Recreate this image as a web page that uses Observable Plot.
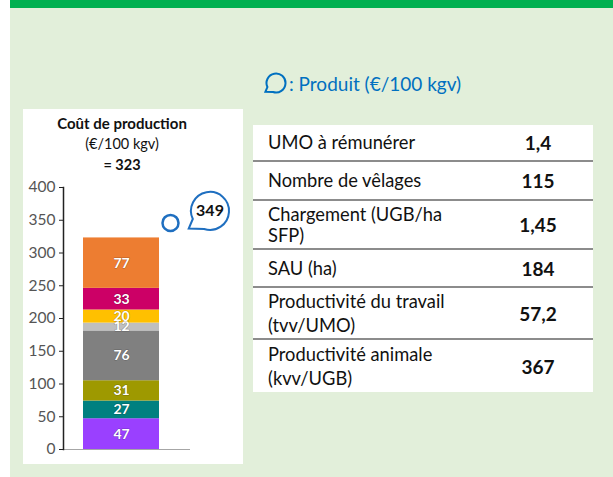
<!DOCTYPE html>
<html><head><meta charset="utf-8">
<script src="https://cdn.jsdelivr.net/npm/d3@7"></script>
<script src="https://cdn.jsdelivr.net/npm/@observablehq/plot@0.6"></script>
<style>
html,body{margin:0;padding:0;background:#fff;}
body{width:613px;height:477px;overflow:hidden;position:relative;font-family:Lato,"Open Sans",sans-serif;}
.abs{position:absolute;}
#bg{left:10px;top:0;width:603px;height:477px;background:#E2EFDA;}
#band{left:10px;top:0;width:603px;height:8px;background:#00B050;}
#legend{left:264px;top:71px;color:#0070C0;font-size:19px;display:flex;align-items:center;white-space:nowrap;}
#panel{left:23px;top:109px;width:220px;height:355px;background:#fff;}
.ttl{left:12px;width:220px;text-align:center;color:#111;white-space:nowrap;}
#chart{left:23px;top:175px;}
#tbl{left:253px;top:125px;width:340px;background:#fff;border-collapse:collapse;font-size:18.3px;color:#111;}
#tbl td{padding:0;line-height:21px;}
#tbl td.l{padding-left:15px;width:215px;}
#tbl td.v{text-align:center;font-weight:bold;font-size:19px;padding-right:0;}
#tbl tr{border-bottom:2px solid #8c8c8c;}
#tbl tr:last-child{border-bottom:none;}
</style></head>
<body>
<div id="bg" class="abs"></div>
<div id="band" class="abs"></div>
<div id="legend" class="abs"></div>
<div id="panel" class="abs"></div>
<div class="abs ttl" style="top:114px;font-size:15px;font-weight:bold;">Coût de production</div>
<div class="abs ttl" id="unit" style="top:135px;font-size:14.5px;"></div>
<div class="abs ttl" id="total" style="top:156px;font-size:14.5px;font-weight:bold;"></div>
<div id="chart" class="abs"></div>
<table id="tbl" class="abs"></table>
<script>
// ---- data ----
const postes = ["Poste 1","Poste 2","Poste 3","Poste 4","Poste 5","Poste 6","Poste 7","Poste 8"];
const valeurs = [47, 27, 31, 76, 12, 20, 33, 77];
const couleurs = ["#9a40ff","#008080","#9e9900","#808080","#bfbfbf","#ffc000","#cc0066","#ed7d31"];
const produit = 349;
const coutTotal = 323;
const uniteTitre = "(€/100 kgv)";
const legendeProduit = ": Produit (€/100 kgv)";
const yTicks = [0, 50, 100, 150, 200, 250, 300, 350, 400];
const tableLabels = ["UMO à rémunérer", "Nombre de vêlages", "Chargement (UGB/ha<br>SFP)", "SAU (ha)", "Productivité du travail<br>(tvv/UMO)", "Productivité animale<br>(kvv/UGB)"];
const tableValeurs = ["1,4", "115", "1,45", "184", "57,2", "367"];
const rowHeights = [36, 39, 49, 38, 52, 53];
const rowLineHeights = [21, 21, 21, 21, 24, 24];

// speech bubble shape
function bubbleDraw(ctx, r) {
  const a1 = Math.PI * 0.60, a2 = Math.PI * 0.86;
  ctx.moveTo(r * Math.cos(a2), r * Math.sin(a2));
  ctx.arc(0, 0, r, a2, a1 + 2 * Math.PI);
  ctx.lineTo(-r * 1.12, r * 0.93);
  ctx.closePath();
}
const bubbleSymbol = {draw(ctx, size) { bubbleDraw(ctx, Math.sqrt(size / Math.PI)); }};

// ---- text parts ----
document.getElementById("unit").textContent = uniteTitre;
document.getElementById("total").textContent = "= " + coutTotal;
const blue = "#1f6fc0";
const iconPath = d3.path(); bubbleDraw(iconPath, 9.5);
document.getElementById("legend").innerHTML =
  `<svg width="24" height="24" viewBox="-12 -12 24 24" style="margin-right:1px"><path d="${iconPath.toString()}" fill="none" stroke="#0070C0" stroke-width="2"/></svg><span>${legendeProduit}</span>`;

const tbl = document.getElementById("tbl");
tableLabels.forEach((lab, i) => {
  const tr = document.createElement("tr");
  tr.style.height = rowHeights[i] + "px";
  tr.innerHTML = `<td class="l" style="line-height:${rowLineHeights[i]}px">${lab}</td><td class="v">${tableValeurs[i]}</td>`;
  tbl.appendChild(tr);
});

// ---- chart ----
const data = postes.map((p, i) => ({poste: p, v: valeurs[i], groupe: "A"}));
const prod = [{groupe: "A", v: produit}];

const chart = Plot.plot({
  width: 220,
  height: 285,
  marginLeft: 40,
  marginRight: 53,
  marginTop: 12,
  marginBottom: 11,
  style: {background: "transparent", fontFamily: "Lato, sans-serif", overflow: "visible"},
  x: {domain: ["A"], padding: 0, axis: null},
  y: {domain: [0, 400], axis: null},
  color: {domain: postes, range: couleurs},
  marks: [
    Plot.barY(data, {x: "groupe", y: "v", fill: "poste", insetLeft: 20, insetRight: 31}),
    Plot.text(data, Plot.stackY({x: "groupe", y: "v", text: "v", dx: -5.5, fill: "white", fontWeight: "bold", fontSize: 14, stroke: "rgba(0,0,0,0.25)", strokeWidth: 1.2, paintOrder: "stroke"})),
    Plot.ruleY([0], {stroke: "#a6a6a6", strokeWidth: 1.2}),
    Plot.frame({anchor: "left", stroke: "#222", strokeWidth: 1.5}),
    Plot.axisY({ticks: yTicks, tickSize: 4, tickPadding: 4, fontSize: 15.5, color: "#555", tickFormat: d => d, stroke: "#222", label: null}),
    Plot.dot(prod, {x: "groupe", y: "v", dx: 43.5, dy: 2, r: 8, fill: "white", stroke: blue, strokeWidth: 2.5}),
    Plot.dot(prod, {x: "groupe", y: "v", dx: 83, dy: -10, r: 19, symbol: bubbleSymbol, fill: "white", stroke: blue, strokeWidth: 2}),
    Plot.text(prod, {x: "groupe", y: "v", text: "v", dx: 83, dy: -10, fontSize: 16, fontWeight: "bold", fill: "#111"})
  ]
});
document.getElementById("chart").appendChild(chart);
</script>
</body></html>
